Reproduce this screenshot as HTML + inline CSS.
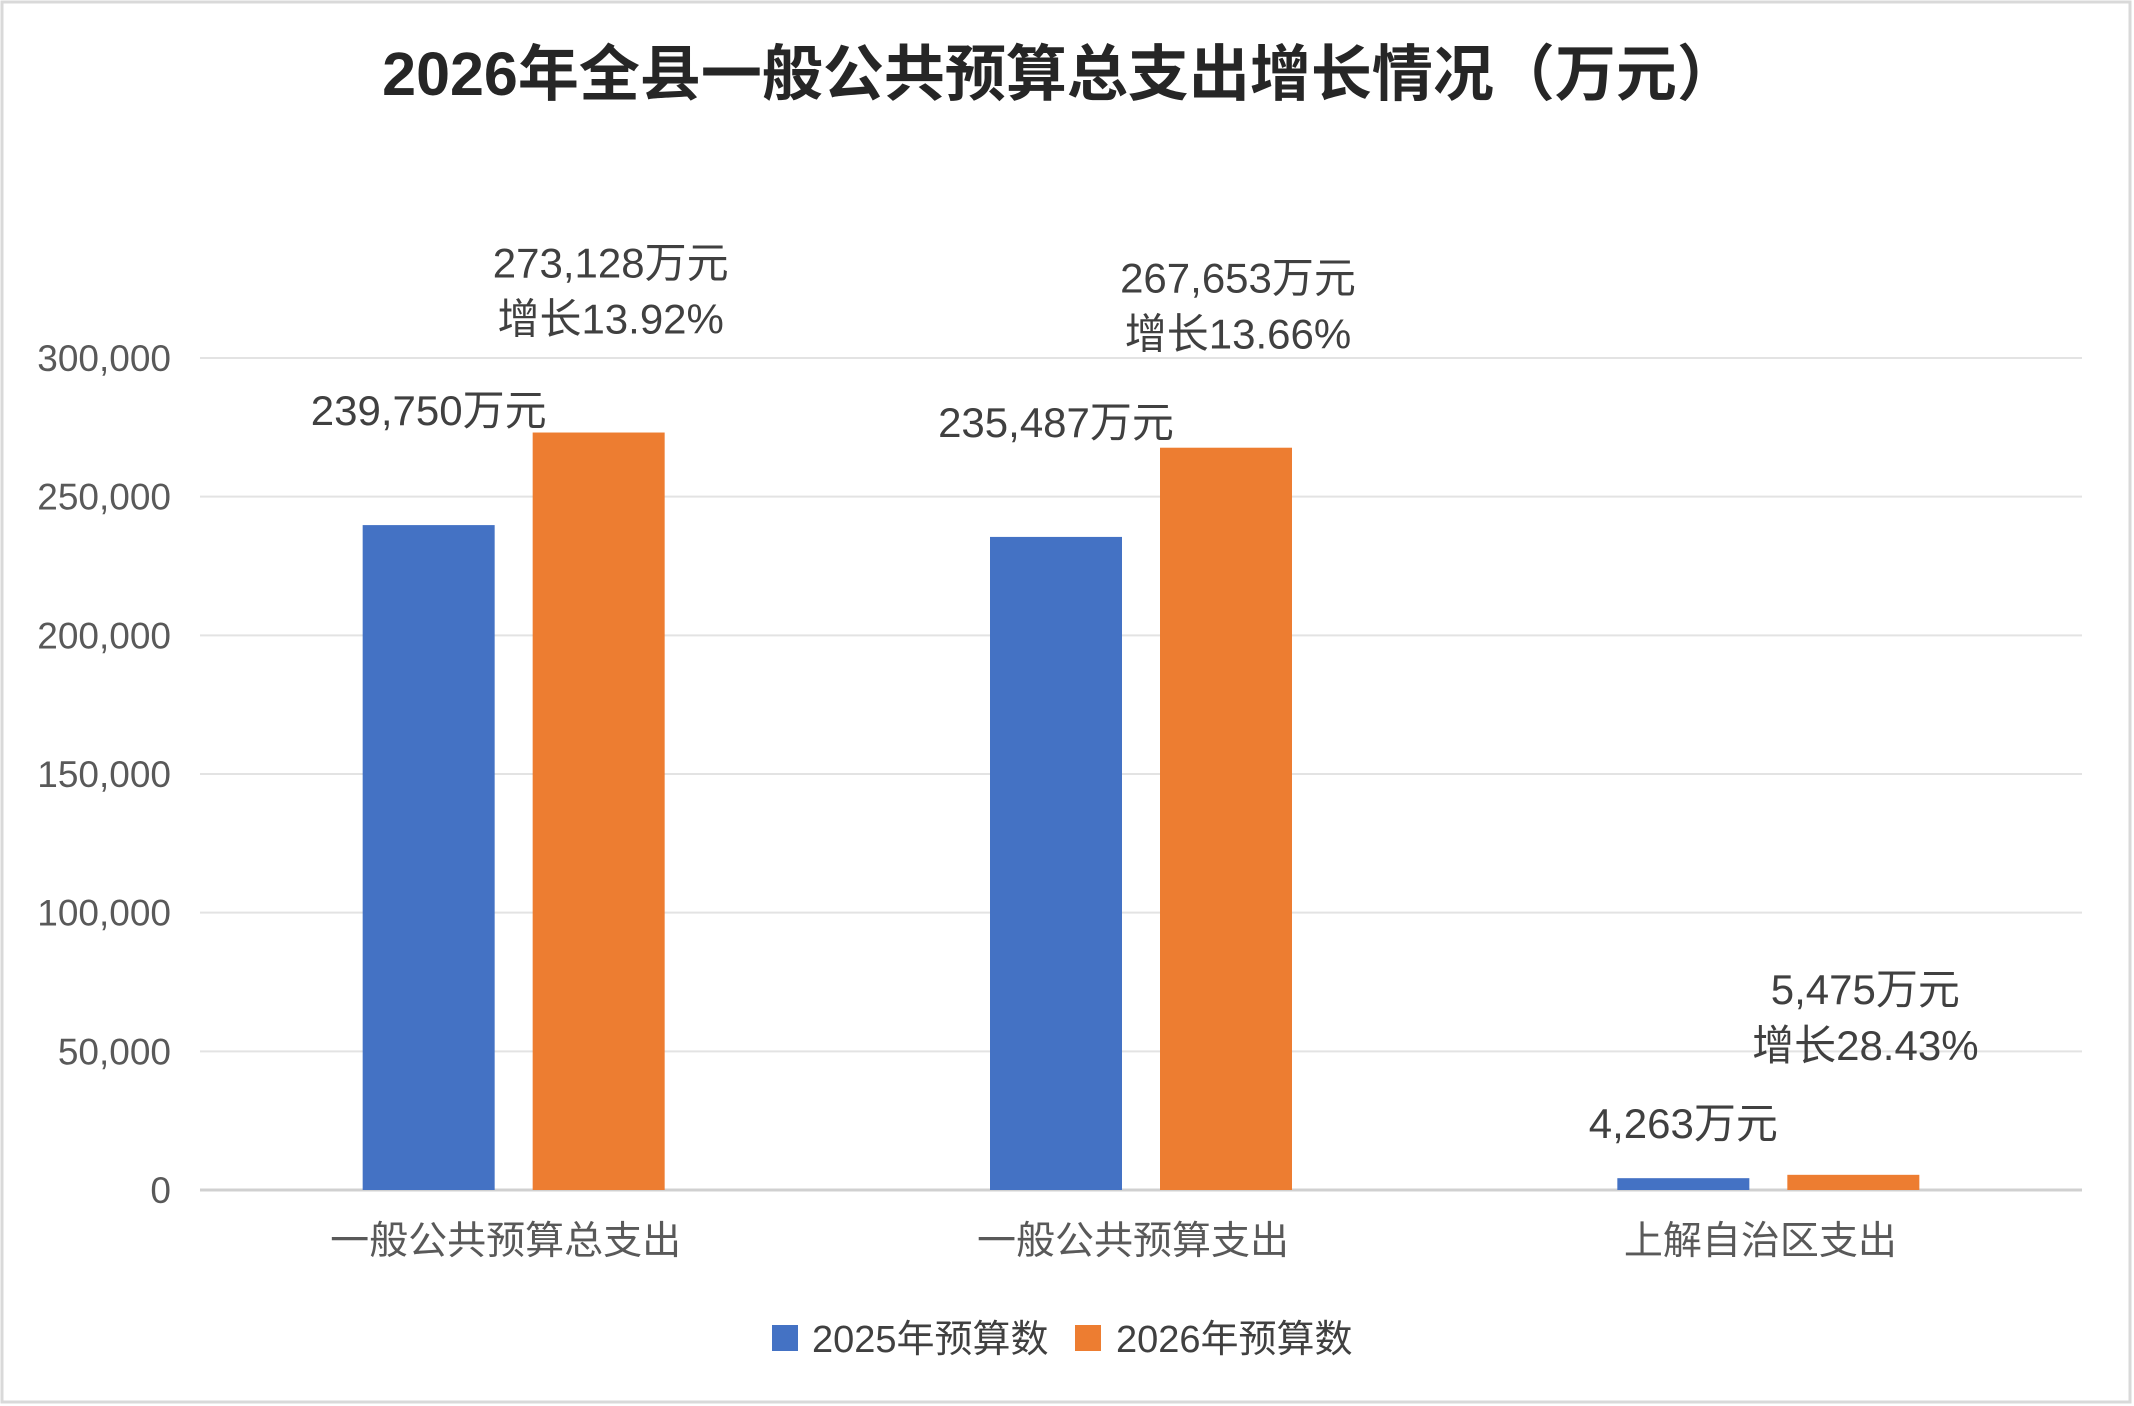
<!DOCTYPE html>
<html><head><meta charset="utf-8">
<style>
html,body{margin:0;padding:0;background:#fff;}
svg{display:block;font-family:"Liberation Sans","Noto Sans CJK SC",sans-serif;}
</style></head>
<body>
<svg id="chart" width="2134" height="1406" viewBox="0 0 2134 1406" xmlns="http://www.w3.org/2000/svg">
<rect x="2" y="2" width="2128" height="1400" fill="#fff" stroke="#d9d9d9" stroke-width="3"/>
<text x="1060" y="95" text-anchor="middle" font-size="61" font-weight="bold" fill="#262626">2026年全县一般公共预算总支出增长情况（万元）</text>
<g id="grid"></g><g id="bars"></g><g id="labels"></g>
<g>
<rect x="772" y="1325" width="26" height="26" fill="#4472c4"/>
<text x="812" y="1352" font-size="38" fill="#404040">2025年预算数</text>
<rect x="1075" y="1325" width="26" height="26" fill="#ed7d31"/>
<text x="1116" y="1352" font-size="38" fill="#404040">2026年预算数</text>
</g>
</svg>
<script>
const categories = ["一般公共预算总支出","一般公共预算支出","上解自治区支出"];
const values2025 = [239750, 235487, 4263];
const values2026 = [273128, 267653, 5475];
const growth2026 = ["13.92%", "13.66%", "28.43%"];
const yTicks = [0, 50000, 100000, 150000, 200000, 250000, 300000];

const NS = "http://www.w3.org/2000/svg";
const L = 200, R = 2082, Y0 = 1190, YTOP = 358, YMAX = 300000;
const catW = (R - L) / categories.length, barW = 132, gap = 38;
const y = v => Y0 - (v / YMAX) * (Y0 - YTOP);
const fmt = v => v.toLocaleString("en-US");
function mk(tag, attrs, parent, text) {
  const e = document.createElementNS(NS, tag);
  for (const k in attrs) e.setAttribute(k, attrs[k]);
  if (text !== undefined) e.textContent = text;
  parent.appendChild(e); return e;
}
const grid = document.getElementById("grid"), bars = document.getElementById("bars"), labels = document.getElementById("labels");
yTicks.forEach(t => {
  const ln = mk("line", {x1: L, x2: R, y1: y(t), y2: y(t), stroke: t === 0 ? "#d0d0d0" : "#e3e3e3", "stroke-width": t === 0 ? 3 : 2}, grid);
  
  
  const tx = mk("text", {x: 171, y: y(t) + 13, "text-anchor": "end", "font-size": 37, fill: "#595959"}, grid, fmt(t));
  
  
});
categories.forEach((c, i) => {
  const cx = L + catW * (i + 0.5);
  const bx1 = cx - gap / 2 - barW, bx2 = cx + gap / 2;
  const b1 = mk("rect", {x: bx1, y: y(values2025[i]), width: barW, height: Y0 - y(values2025[i]), fill: "#4472c4"}, bars);
  
  
  const b2 = mk("rect", {x: bx2, y: y(values2026[i]), width: barW, height: Y0 - y(values2026[i]), fill: "#ed7d31"}, bars);
  
  
  const cl = mk("text", {x: cx - 8, y: 1254, "text-anchor": "middle", "font-size": 39, fill: "#595959"}, labels, c);
  
  
  const off1 = i === 2 ? 40 : 100;
  const l1 = mk("text", {x: bx1 + barW / 2, y: y(values2025[i]) - off1, "text-anchor": "middle", "font-size": 42, fill: "#404040"}, labels, fmt(values2025[i]) + "万元");
  
  
  const lx = bx2 + barW / 2 + 12, top = y(values2026[i]);
  const off2 = i === 2 ? 171 : 155;
  const l2 = mk("text", {x: lx, y: top - off2, "text-anchor": "middle", "font-size": 42, fill: "#404040"}, labels, fmt(values2026[i]) + "万元");
  
  
  const l3 = mk("text", {x: lx, y: top - off2 + 56, "text-anchor": "middle", "font-size": 42, fill: "#404040"}, labels, "增长" + growth2026[i]);
  
  
});
</script>
</body></html>
